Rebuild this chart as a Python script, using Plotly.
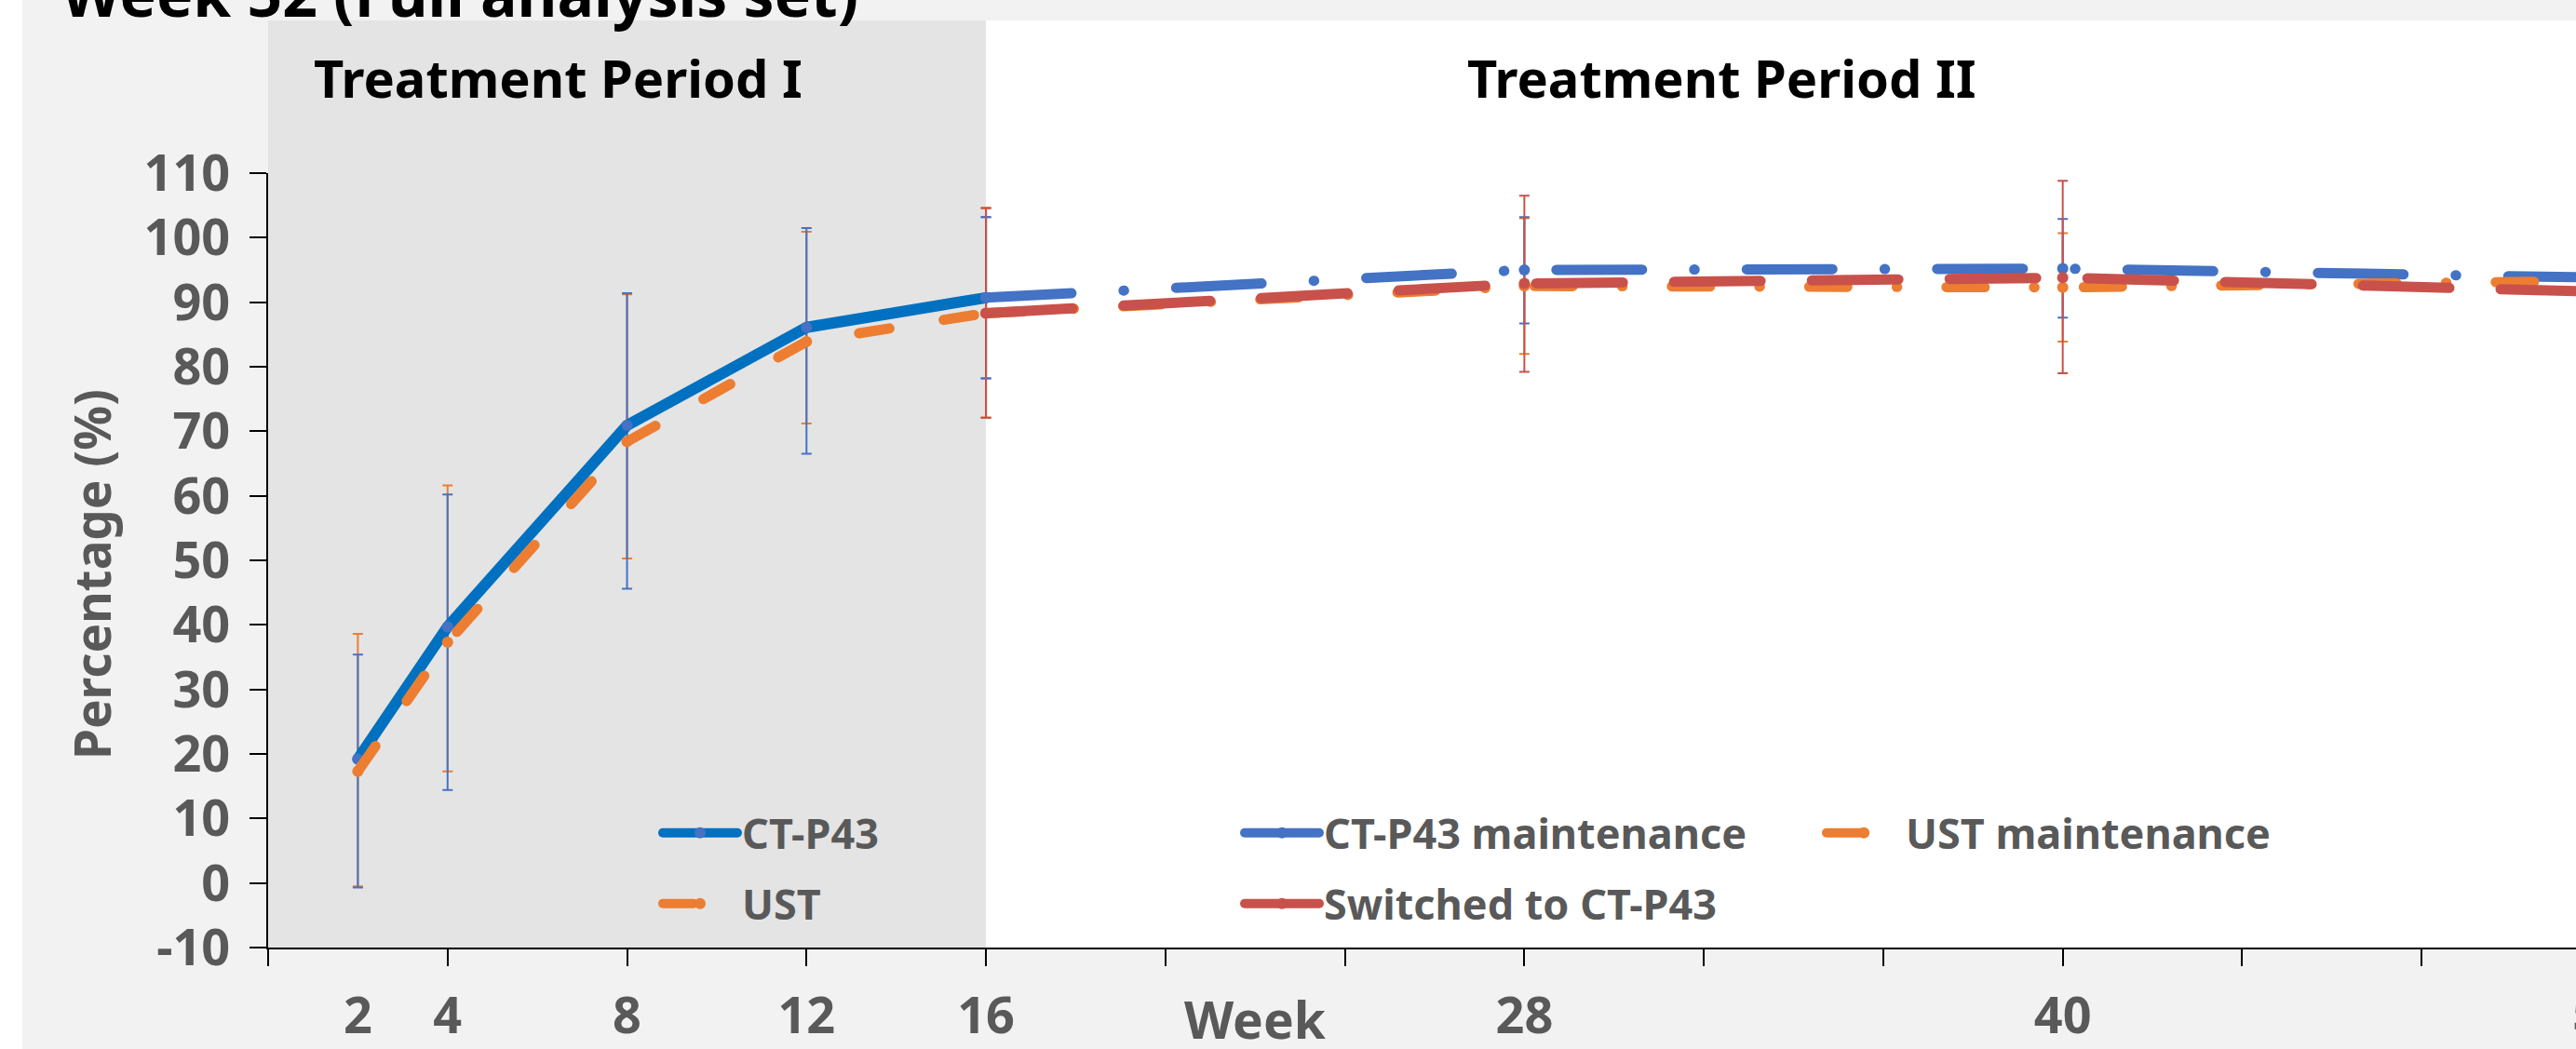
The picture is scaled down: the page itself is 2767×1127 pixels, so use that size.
import plotly.graph_objects as go

# ---------------- data ----------------
weeks_p1 = [2, 4, 8, 12, 16]
ct_p43 = [19.2, 39.7, 70.9, 86.1, 90.7]
ct_p43_upper = [35.4, 60.2, 91.4, 101.5, 103.2]
ct_p43_lower = [-0.7, 14.4, 45.6, 66.5, 78.2]
ust = [17.3, 37.3, 68.4, 83.9, 88.3]
ust_upper = [38.6, 61.6, 91.2, 100.9, 104.6]
ust_lower = [-0.5, 17.3, 50.3, 71.2, 72.1]

weeks_p2 = [16, 28, 40, 52]
ct_maint = [90.7, 95.0, 95.2, 93.8]
ct_maint_upper = [103.2, 103.2, 102.9, 102.0]
ct_maint_lower = [78.2, 86.7, 87.6, 85.6]
ust_maint = [88.3, 92.5, 92.3, 93.3]
ust_maint_upper = [104.6, 103.0, 100.7, 101.5]
ust_maint_lower = [72.1, 82.0, 83.9, 85.1]
switched = [88.3, 92.9, 93.8, 91.6]
switched_upper = [104.6, 106.5, 108.8, 106.0]
switched_lower = [72.1, 79.2, 79.0, 77.2]

x_tick_marks = [0, 4, 8, 12, 16, 20, 24, 28, 32, 36, 40, 44, 48]
x_label_vals = [2, 4, 8, 12, 16, 28, 40]
x_label_cut = 52
y_ticks = [-10, 0, 10, 20, 30, 40, 50, 60, 70, 80, 90, 100, 110]

# ---------------- style ----------------
C_CT = "#0070C0"
C_BLUE = "#4472C4"
C_ORANGE = "#ED7D31"
C_RED = "#C9514B"
GREY_TXT = "#595959"
FONT = "Noto Sans"

X_MAX = 51.44
PLOT_L, PLOT_R, PLOT_T, PLOT_B = 288, 2767, 186, 1018
W, H = 2767, 1127
ITEMW = 80


def px_to_paper_x(px):
    return (px - PLOT_L) / (PLOT_R - PLOT_L)


def px_to_paper_y(py):
    return (PLOT_B - py) / (PLOT_B - PLOT_T)


def err(vals, up, lo):
    return dict(type="data", symmetric=False,
                array=[u - v for u, v in zip(up, vals)],
                arrayminus=[v - l for v, l in zip(vals, lo)])


fig = go.Figure()


def errtrace(x, vals, up, lo, color):
    e = err(vals, up, lo)
    e.update(color=color, thickness=2, width=5.5)
    fig.add_trace(go.Scatter(x=x, y=vals, mode="markers",
                             marker=dict(size=1, color="rgba(0,0,0,0)"),
                             error_y=e, showlegend=False, hoverinfo="skip"))


errtrace(weeks_p1, ust, ust_upper, ust_lower, C_ORANGE)
errtrace(weeks_p1, ct_p43, ct_p43_upper, ct_p43_lower, C_BLUE)
errtrace(weeks_p2, ust_maint, ust_maint_upper, ust_maint_lower, C_ORANGE)
errtrace(weeks_p2, ct_maint, ct_maint_upper, ct_maint_lower, C_BLUE)
errtrace(weeks_p2, switched, switched_upper, switched_lower, C_RED)

# dash lengths assume round line caps (applied after render)
fig.add_trace(go.Scatter(x=weeks_p1, y=ct_p43, mode="lines+markers", name="CT-P43",
                         line=dict(color=C_CT, width=12),
                         marker=dict(color=C_BLUE, size=12),
                         legend="legend"))
fig.add_trace(go.Scatter(x=weeks_p1, y=ust, mode="lines+markers", name="UST",
                         line=dict(color=C_ORANGE, width=11, dash="33px,59px"),
                         marker=dict(color=C_ORANGE, size=12),
                         legend="legend2"))
fig.add_trace(go.Scatter(x=weeks_p2, y=ct_maint, mode="lines+markers", name="CT-P43 maintenance",
                         line=dict(color=C_BLUE, width=11, dash="92px,56px,0.5px,56px"),
                         marker=dict(color=C_BLUE, size=12),
                         legend="legend3"))
fig.add_trace(go.Scatter(x=weeks_p2, y=ust_maint, mode="lines+markers", name="UST maintenance",
                         line=dict(color=C_ORANGE, width=11, dash="41px,53px,0.5px,53px"),
                         marker=dict(color=C_ORANGE, size=12),
                         legend="legend5"))
fig.add_trace(go.Scatter(x=weeks_p2, y=switched, mode="lines+markers", name="Switched to CT-P43",
                         line=dict(color=C_RED, width=11, dash="93px,55px"),
                         marker=dict(color=C_RED, size=12),
                         legend="legend4"))
# empty trace so the label axis (x2) gets drawn
fig.add_trace(go.Scatter(x=[], y=[], xaxis="x2", showlegend=False, hoverinfo="skip"))

# backgrounds
top_paper = px_to_paper_y(22)
fig.add_shape(type="rect", xref="paper", yref="paper", x0=0, x1=1.02, y0=0, y1=top_paper,
              fillcolor="white", line=dict(width=0), layer="below")
fig.add_shape(type="rect", xref="x", yref="paper", x0=0, x1=16, y0=0, y1=top_paper,
              fillcolor="#E4E4E4", line=dict(width=0), layer="below")
fig.add_shape(type="rect", xref="paper", yref="paper", x0=px_to_paper_x(-5), x1=px_to_paper_x(24),
              y0=px_to_paper_y(H + 5), y1=px_to_paper_y(-5),
              fillcolor="white", line=dict(width=0), layer="below")

tickfont = dict(family=FONT, size=54, color=GREY_TXT, weight="bold")
legfont = dict(family=FONT, size=45, color=GREY_TXT, weight="bold")

fig.update_layout(
    width=W, height=H,
    margin=dict(l=PLOT_L, r=W - PLOT_R, t=PLOT_T, b=H - PLOT_B, pad=0, autoexpand=False),
    paper_bgcolor="#F2F2F2", plot_bgcolor="rgba(0,0,0,0)",
    xaxis=dict(range=[0, X_MAX], tickvals=x_tick_marks, showticklabels=False,
               ticks="outside", ticklen=18, tickwidth=2, tickcolor="black",
               showline=True, linecolor="black", linewidth=2,
               showgrid=False, zeroline=False),
    xaxis2=dict(range=[0, X_MAX], overlaying="x", anchor="y", side="bottom",
                tickvals=x_label_vals, ticktext=[str(v) for v in x_label_vals],
                ticks="outside", ticklen=18, tickcolor="rgba(0,0,0,0)",
                ticklabelstandoff=8, tickfont=tickfont,
                showline=False, showgrid=False, zeroline=False),
    yaxis=dict(range=[-10, 110], tickvals=y_ticks, ticktext=[str(v) for v in y_ticks],
               ticks="outside", ticklen=18, tickwidth=2, tickcolor="black",
               ticklabelstandoff=10, tickfont=tickfont,
               showline=True, linecolor="black", linewidth=2,
               showgrid=False, zeroline=False),
    showlegend=True,
)

leg_common = dict(xanchor="left", yanchor="middle", bgcolor="rgba(0,0,0,0)",
                  borderwidth=0, font=legfont, orientation="v", itemwidth=ITEMW)
row1 = px_to_paper_y(895)
row2 = px_to_paper_y(971)
off = ITEMW + 10
fig.update_layout(
    legend=dict(x=px_to_paper_x(797 - off), y=row1, **leg_common),
    legend2=dict(x=px_to_paper_x(797 - off), y=row2, **leg_common),
    legend3=dict(x=px_to_paper_x(1422 - off), y=row1, **leg_common),
    legend4=dict(x=px_to_paper_x(1422 - off), y=row2, **leg_common),
    legend5=dict(x=px_to_paper_x(2047 - off), y=row1, **leg_common),
)

ann_black = dict(family=FONT, size=56, color="black", weight="bold")
fig.add_annotation(x=6.47, xref="x", y=px_to_paper_y(83), yref="paper",
                   text="Treatment Period I", showarrow=False, font=ann_black,
                   xanchor="center", yanchor="middle")
fig.add_annotation(x=32.41, xref="x", y=px_to_paper_y(83), yref="paper",
                   text="Treatment Period II", showarrow=False, font=ann_black,
                   xanchor="center", yanchor="middle")
fig.add_annotation(x=px_to_paper_x(64), xref="paper", y=px_to_paper_y(-8), yref="paper",
                   text="Week 52 (Full analysis set)", showarrow=False,
                   font=dict(family=FONT, size=66, color="black", weight="bold"),
                   xanchor="left", yanchor="middle")
fig.add_annotation(x=22, xref="x", y=px_to_paper_y(1094), yref="paper",
                   text="Week", showarrow=False,
                   font=dict(family=FONT, size=55, color=GREY_TXT, weight="bold"),
                   xanchor="center", yanchor="middle")
fig.add_annotation(x=px_to_paper_x(98), xref="paper", y=px_to_paper_y(617), yref="paper",
                   text="Percentage (%)", showarrow=False, textangle=-90,
                   font=dict(family=FONT, size=53, color=GREY_TXT, weight="bold"),
                   xanchor="center", yanchor="middle")
# tick label at week 52 lies just past the visible edge (partly cut off)
fig.add_annotation(x=x_label_cut / X_MAX, xref="paper", y=px_to_paper_y(1086), yref="paper",
                   text=str(x_label_cut), showarrow=False, font=tickfont,
                   xanchor="center", yanchor="middle")

post = (
    "document.body.style.margin='0';document.body.style.overflow='hidden';"
    "document.querySelectorAll('path.js-line').forEach(function(p){"
    "p.style.strokeLinecap='round';p.style.strokeLinejoin='round';});"
)
fig.write_html("out.html", config={"displayModeBar": False}, post_script=post)
